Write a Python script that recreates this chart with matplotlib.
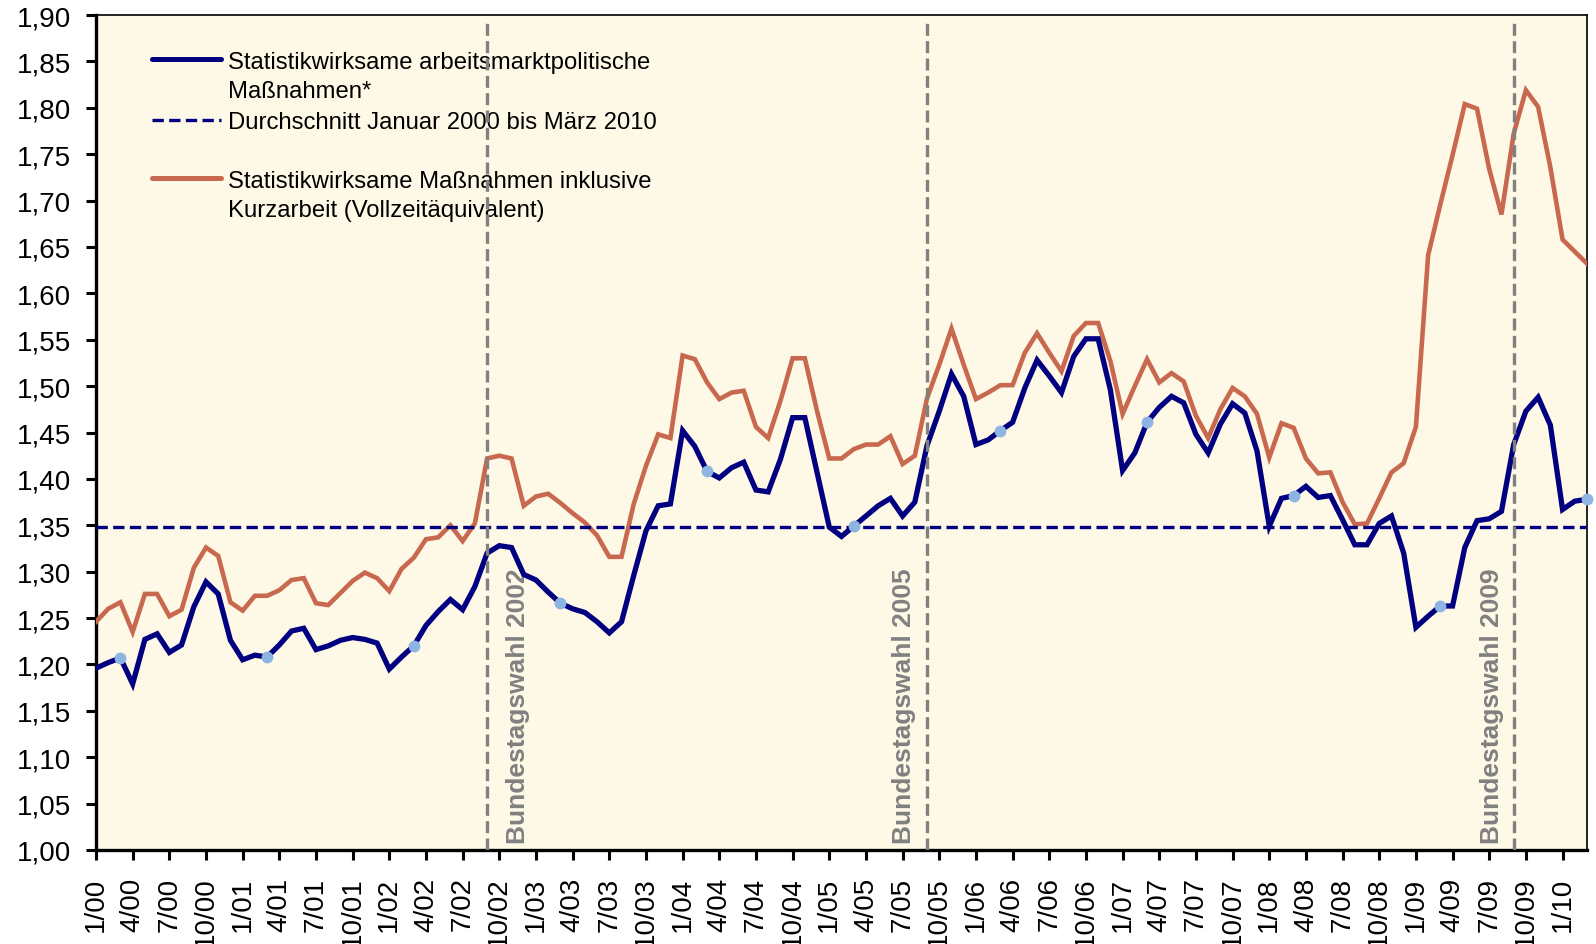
import matplotlib
matplotlib.use("Agg")
import matplotlib.pyplot as plt
from matplotlib.lines import Line2D
from matplotlib.ticker import FixedLocator

plt.rcParams['font.family'] = ['Liberation Sans', 'DejaVu Sans']

# monthly values, January 2000 .. March 2010
massnahmen = [
    1.196, 1.202, 1.207, 1.179, 1.227, 1.233, 1.213, 1.221, 1.262, 1.289, 1.276, 1.226,  # 2000
    1.205, 1.210, 1.208, 1.221, 1.236, 1.239, 1.216, 1.220, 1.226, 1.229, 1.227, 1.223,  # 2001
    1.195, 1.208, 1.220, 1.242, 1.257, 1.270, 1.259, 1.284, 1.320, 1.328, 1.326, 1.297,  # 2002
    1.291, 1.278, 1.266, 1.260, 1.256, 1.246, 1.234, 1.246, 1.296, 1.344, 1.371, 1.373,  # 2003
    1.452, 1.435, 1.408, 1.401, 1.412, 1.418, 1.388, 1.386, 1.421, 1.466, 1.466, 1.407,  # 2004
    1.348, 1.338, 1.349, 1.360, 1.371, 1.379, 1.360, 1.375, 1.436, 1.473, 1.513, 1.489,  # 2005
    1.437, 1.442, 1.452, 1.461, 1.498, 1.528, 1.511, 1.493, 1.532, 1.551, 1.551, 1.496,  # 2006
    1.409, 1.428, 1.461, 1.477, 1.489, 1.482, 1.448, 1.428, 1.459, 1.481, 1.471, 1.430,  # 2007
    1.349, 1.379, 1.382, 1.392, 1.380, 1.382, 1.356, 1.329, 1.329, 1.352, 1.360, 1.320,  # 2008
    1.240, 1.252, 1.263, 1.263, 1.326, 1.355, 1.357, 1.365, 1.437, 1.473, 1.488, 1.458,  # 2009
    1.367, 1.376, 1.378,  # 2010
]
inkl_kurzarbeit = [
    1.246, 1.260, 1.267, 1.235, 1.276, 1.276, 1.252, 1.259, 1.304, 1.326, 1.317, 1.267,  # 2000
    1.258, 1.274, 1.274, 1.280, 1.291, 1.293, 1.266, 1.264, 1.277, 1.290, 1.299, 1.293,  # 2001
    1.279, 1.303, 1.315, 1.335, 1.337, 1.350, 1.333, 1.352, 1.422, 1.425, 1.422, 1.371,  # 2002
    1.381, 1.384, 1.374, 1.363, 1.353, 1.339, 1.316, 1.316, 1.373, 1.414, 1.448, 1.444,  # 2003
    1.533, 1.529, 1.504, 1.486, 1.493, 1.495, 1.456, 1.444, 1.484, 1.530, 1.530, 1.473,  # 2004
    1.422, 1.422, 1.432, 1.437, 1.437, 1.446, 1.416, 1.425, 1.487, 1.523, 1.562, 1.523,  # 2005
    1.486, 1.493, 1.501, 1.501, 1.536, 1.557, 1.536, 1.516, 1.554, 1.568, 1.568, 1.527,  # 2006
    1.470, 1.500, 1.529, 1.504, 1.514, 1.505, 1.468, 1.444, 1.475, 1.498, 1.489, 1.470,  # 2007
    1.423, 1.460, 1.455, 1.422, 1.406, 1.407, 1.375, 1.351, 1.352, 1.379, 1.407, 1.417,  # 2008
    1.456, 1.641, 1.696, 1.749, 1.804, 1.799, 1.734, 1.685, 1.772, 1.819, 1.801, 1.736,  # 2009
    1.658, 1.645, 1.632,  # 2010
]
durchschnitt = 1.348

# light blue dots on the navy line (March of each year)
marker_idx = [2, 14, 26, 38, 50, 62, 74, 86, 98, 110, 122]

# elections: month index (Sept.) and label
wahl_idx = [32, 68, 116]
wahl_labels = ["Bundestagswahl 2002", "Bundestagswahl 2005", "Bundestagswahl 2009"]
wahl_text_dx = [2.5, -1.9, -1.8]

tick_idx = list(range(0, 121, 3))
tick_labels = [f"{m}/{y:02d}" for y in range(0, 11) for m in (1, 4, 7, 10)][:len(tick_idx)]
yticks = [1.00 + 0.05 * k for k in range(19)]

navy = '#000080'
orange = '#C8694F'
gray = '#808080'

fig = plt.figure(figsize=(15.96, 9.45), dpi=100)
ax = fig.add_axes([96 / 1596, 1 - 851 / 945, 1491 / 1596, 835 / 945])
ax.set_facecolor('#FEF8E6')

x = list(range(len(massnahmen)))
ax.plot(x, inkl_kurzarbeit, color=orange, lw=3.3, solid_joinstyle='miter', zorder=3)
ax.plot(x, massnahmen, color=navy, lw=3.8, solid_joinstyle='miter', zorder=4)
ax.plot(marker_idx, [massnahmen[i] for i in marker_idx], 'o', color='#8DB4E2',
        ms=8.5, mec='none', zorder=5, clip_on=False)
ax.axhline(durchschnitt, color=navy, lw=2.4, dashes=(3.4, 1.6), zorder=4)

for xi, lab, dx in zip(wahl_idx, wahl_labels, wahl_text_dx):
    ax.axvline(xi, ymax=0.992, color=gray, lw=2.4, dashes=(3.6, 1.6), zorder=6)
    ax.text(xi + dx, 1.008, lab, rotation=90, ha='center', va='bottom',
            color=gray, fontsize=19, fontweight='bold')

# legend drawn by hand so the samples line up with the first text row
leg_rows = [
    (0.9470, dict(color=navy, lw=3.6), ["Statistikwirksame arbeitsmarktpolitische", "Maßnahmen*"]),
    (0.8746, dict(color=navy, lw=2.4, dashes=(3.4, 1.6)), ["Durchschnitt Januar 2000 bis März 2010"]),
    (0.8044, dict(color=orange, lw=3.6), ["Statistikwirksame Maßnahmen inklusive",
                                          "Kurzarbeit (Vollzeitäquivalent)"]),
]
for ly, style, lines in leg_rows:
    ax.add_line(Line2D([0.0378, 0.0837], [ly, ly], transform=ax.transAxes,
                       solid_capstyle='round', **style))
    for k, txt in enumerate(lines):
        ax.text(0.0887, ly - 0.0105 - k * 0.0345, txt, transform=ax.transAxes,
                va='baseline', ha='left', fontsize=17.2)

ax.set_xlim(0, len(massnahmen) - 1)
ax.set_ylim(1.0, 1.9)
ax.xaxis.set_major_locator(FixedLocator(tick_idx))
ax.set_xticklabels(tick_labels, rotation=90, fontsize=20)
ax.set_yticks(yticks)
ax.set_yticklabels([f"{v:.2f}".replace('.', ',') for v in yticks], fontsize=20)
ax.tick_params(axis='y', direction='out', length=7, width=2.2, pad=11)
ax.tick_params(axis='x', direction='out', length=7, width=2.2, pad=12)

for side in ('left', 'bottom'):
    ax.spines[side].set_linewidth(2.4)
for side in ('top', 'right'):
    ax.spines[side].set_linewidth(1.2)

fig.savefig('out.png', dpi=100)
